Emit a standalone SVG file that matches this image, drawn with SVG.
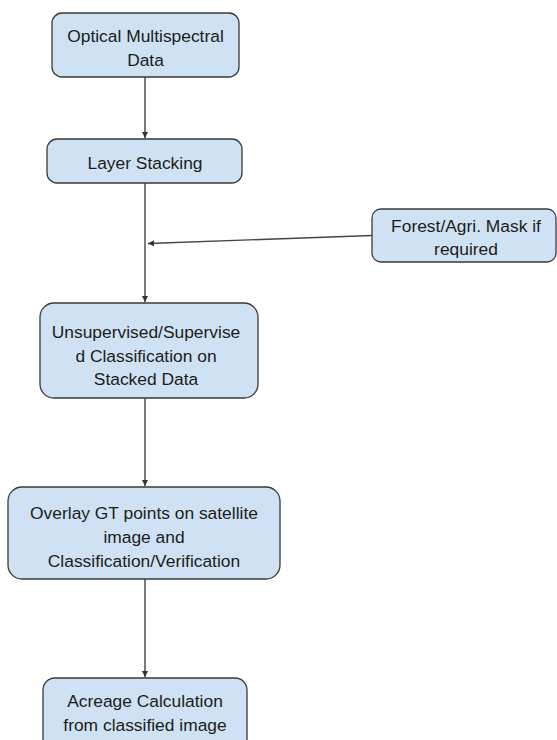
<svg xmlns="http://www.w3.org/2000/svg" width="557" height="740" viewBox="0 0 557 740">
<defs>
<style>
.box{fill:#cfe2f3;stroke:#3a3a3a;stroke-width:1.3}
.t{font-family:"Liberation Sans",Arial,sans-serif;font-size:17.4px;fill:#1c1c1c;text-anchor:middle}
.c{stroke:#444;stroke-width:1.4;fill:none;marker-end:url(#ah)}
</style>
<marker id="ah" markerWidth="8" markerHeight="8" refX="6" refY="3" orient="auto" markerUnits="userSpaceOnUse">
<path d="M0,0 L6,3 L0,6 Z" fill="#333"/>
</marker>
</defs>
<rect width="557" height="740" fill="#fff"/>
<g id="connectors">
<line class="c" x1="145" y1="77" x2="145" y2="138"/>
<line class="c" x1="145" y1="183" x2="145" y2="302"/>
<line class="c" x1="372" y1="235.5" x2="148" y2="243.5"/>
<line class="c" x1="145" y1="398" x2="145" y2="486"/>
<line class="c" x1="145" y1="579" x2="145" y2="677"/>
</g>
<g id="n1">
<rect class="box" x="52" y="13" width="187" height="64" rx="10"/>
<text class="t" x="145.5" y="42">Optical Multispectral</text>
<text class="t" x="145.5" y="66">Data</text>
</g>
<g id="n2">
<rect class="box" x="47" y="139" width="195" height="44" rx="10"/>
<text class="t" x="145" y="169">Layer Stacking</text>
</g>
<g id="n3">
<rect class="box" x="372" y="209" width="184" height="53" rx="9"/>
<text class="t" x="466" y="232">Forest/Agri. Mask if</text>
<text class="t" x="466" y="255">required</text>
</g>
<g id="n4">
<rect class="box" x="40" y="303" width="218" height="95" rx="14"/>
<text class="t" x="146" y="338">Unsupervised/Supervise</text>
<text class="t" x="146" y="362">d Classification on</text>
<text class="t" x="146" y="385">Stacked Data</text>
</g>
<g id="n5">
<rect class="box" x="8" y="487" width="272" height="92" rx="14"/>
<text class="t" x="144" y="519">Overlay GT points on satellite</text>
<text class="t" x="144" y="543">image and</text>
<text class="t" x="144" y="567">Classification/Verification</text>
</g>
<g id="n6">
<rect class="box" x="43" y="678" width="204" height="75" rx="12"/>
<text class="t" x="145" y="707">Acreage Calculation</text>
<text class="t" x="145" y="731">from classified image</text>
</g>
</svg>
